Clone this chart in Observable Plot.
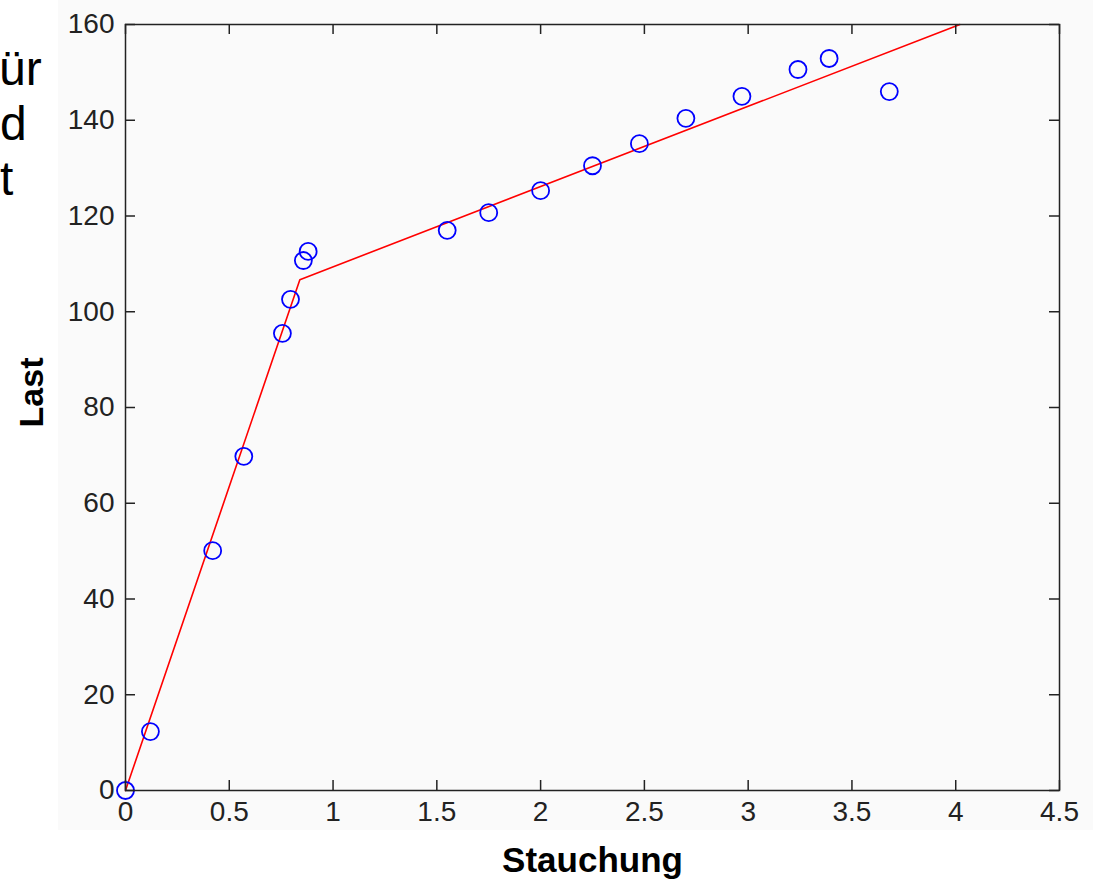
<!DOCTYPE html>
<html>
<head>
<meta charset="utf-8">
<script src="https://cdn.jsdelivr.net/npm/d3@7"></script>
<script src="https://cdn.jsdelivr.net/npm/@observablehq/plot@0.6"></script>
<style>
  html, body { margin: 0; padding: 0; background: #ffffff; }
  #wrap { position: relative; width: 1093px; height: 883px; overflow: hidden; }
  #bg { position: absolute; left: 58px; top: 0; width: 1035px; height: 830px; background: #fafafa; }
  #chart { position: absolute; left: 0; top: 0; }
  .frag { position: absolute; font-family: "Liberation Sans", Arial, sans-serif; font-size: 48px; color: #000; line-height: 1; white-space: nowrap; }
</style>
</head>
<body>
<div id="wrap">
  <div id="bg"></div>
  <div id="chart"></div>
  <div class="frag" style="left:-1px; top:45px;">ür</div>
  <div class="frag" style="left:0px; top:100px;">d</div>
  <div class="frag" style="left:0px; top:155px;">t</div>
</div>
<script>
// Measured data (Stauchung vs. Last)
const stauchung = [0, 0.12, 0.42, 0.57, 0.756, 0.795, 0.857, 0.88, 1.55, 1.75, 2.0, 2.25, 2.476, 2.70, 2.97, 3.24, 3.39, 3.68];
const last      = [0, 12.3, 50.1, 69.8, 95.5, 102.6, 110.7, 112.6, 117.0, 120.7, 125.3, 130.5, 135.1, 140.4, 145.0, 150.6, 152.9, 146.0];
// Piecewise linear fit
const fitX = [0, 0.84, 4.02];
const fitY = [0, 106.7, 160];
// Tick values
const xTicks = [0, 0.5, 1, 1.5, 2, 2.5, 3, 3.5, 4, 4.5];
const yTicks = [0, 20, 40, 60, 80, 100, 120, 140, 160];
const xLabel = "Stauchung";
const yLabel = "Last";

const points = stauchung.map((x, i) => ({x, y: last[i]}));
const fit = fitX.map((x, i) => ({x, y: fitY[i]}));

const W = 1093, H = 883;
const mL = 125, mR = 34, mT = 24, mB = 93;
const innerW = W - mL - mR, innerH = H - mT - mB;
const tickLen = 10;
const ink = "#222";

const chart = Plot.plot({
  width: W,
  height: H,
  marginLeft: mL, marginRight: mR, marginTop: mT, marginBottom: mB,
  style: { background: "transparent", fontFamily: "'Liberation Sans', Arial, sans-serif", fontSize: "28px", color: ink },
  x: { domain: [0, 4.5], label: null },
  y: { domain: [0, 160], label: null },
  marks: [
    Plot.line(fit, { x: "x", y: "y", stroke: "#ff0000", strokeWidth: 1.6 }),
    Plot.dot(points, { x: "x", y: "y", r: 8.5, stroke: "#0000ff", strokeWidth: 1.8, fill: "none" }),
    // inward ticks (bottom/top/left/right)
    Plot.tickX(xTicks, { x: d => d, insetTop: innerH - tickLen, stroke: ink, strokeWidth: 1.5 }),
    Plot.tickX(xTicks, { x: d => d, insetBottom: innerH - tickLen, stroke: ink, strokeWidth: 1.5 }),
    Plot.tickY(yTicks, { y: d => d, insetRight: innerW - tickLen, stroke: ink, strokeWidth: 1.5 }),
    Plot.tickY(yTicks, { y: d => d, insetLeft: innerW - tickLen, stroke: ink, strokeWidth: 1.5 }),
    Plot.frame({ stroke: ink, strokeWidth: 1.5 }),
    Plot.axisX(xTicks, { tickSize: 0, tickPadding: 11, tickFormat: d => String(d), label: null, fontSize: 28, fill: ink }),
    Plot.axisY(yTicks, { tickSize: 0, tickPadding: 11, tickFormat: d => String(d), label: null, fontSize: 28, fill: ink }),
    Plot.text([xLabel], { text: d => d, frameAnchor: "bottom", textAnchor: "middle", lineAnchor: "bottom", dy: 81, fontSize: 35, fontWeight: "bold", fill: "#000" }),
    Plot.text([yLabel], { text: d => d, frameAnchor: "left", textAnchor: "middle", rotate: -90, dx: -93, dy: -15, fontSize: 34, fontWeight: "bold", fill: "#000" })
  ]
});
document.getElementById("chart").appendChild(chart);
</script>
</body>
</html>
